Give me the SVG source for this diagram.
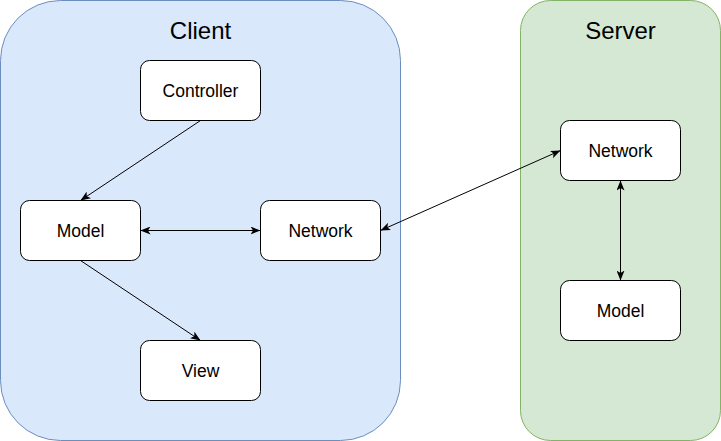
<svg xmlns="http://www.w3.org/2000/svg" width="721" height="441" viewBox="0 0 721 441">
<style>
.node rect{fill:#ffffff;stroke:#000000;stroke-width:1}
.node text{font-family:"Liberation Sans",Arial,sans-serif;font-size:17.5px;fill:#000;text-anchor:middle;dominant-baseline:central}
.title{font-family:"Liberation Sans",Arial,sans-serif;font-size:24px;fill:#000;text-anchor:middle;dominant-baseline:central}
.edge{fill:none;stroke:#000;stroke-width:1}
</style>
<defs>
<marker id="arrE" viewBox="0 0 10 8" refX="10" refY="4" markerWidth="10" markerHeight="8" orient="auto" markerUnits="userSpaceOnUse">
<path d="M0,0 L10,4 L0,8 L2.5,4 Z" fill="#000"/>
</marker>
<marker id="arrS" viewBox="0 0 10 8" refX="0" refY="4" markerWidth="10" markerHeight="8" orient="auto" markerUnits="userSpaceOnUse">
<path d="M10,0 L0,4 L10,8 L7.5,4 Z" fill="#000"/>
</marker>
</defs>
<g id="client">
<rect x="0.5" y="0.5" width="400" height="440" rx="60" ry="60" fill="#dae8fc" stroke="#6c8ebf"/>
<text class="title" x="200.5" y="30.5">Client</text>
</g>
<g id="server">
<rect x="520.5" y="0.5" width="200" height="440" rx="30" ry="30" fill="#d5e8d4" stroke="#82b366"/>
<text class="title" x="620.5" y="30.5">Server</text>
</g>
<g id="edges">
<line class="edge" x1="200.5" y1="120.5" x2="80.5" y2="200.5" marker-end="url(#arrE)"/>
<line class="edge" x1="140.5" y1="230.5" x2="260.5" y2="230.5" marker-start="url(#arrS)" marker-end="url(#arrE)"/>
<line class="edge" x1="80.5" y1="260.5" x2="200.5" y2="340.5" marker-end="url(#arrE)"/>
<line class="edge" x1="380.5" y1="230.5" x2="560.5" y2="150.5" marker-start="url(#arrS)" marker-end="url(#arrE)"/>
<line class="edge" x1="620.5" y1="180.5" x2="620.5" y2="280.5" marker-start="url(#arrS)" marker-end="url(#arrE)"/>
</g>
<g id="controller" class="node"><rect x="140.5" y="60.5" width="120" height="60" rx="9"/><text x="200.5" y="90.5">Controller</text></g>
<g id="model" class="node"><rect x="20.5" y="200.5" width="120" height="60" rx="9"/><text x="80.5" y="230.5">Model</text></g>
<g id="network" class="node"><rect x="260.5" y="200.5" width="120" height="60" rx="9"/><text x="320.5" y="230.5">Network</text></g>
<g id="view" class="node"><rect x="140.5" y="340.5" width="120" height="60" rx="9"/><text x="200.5" y="370.5">View</text></g>
<g id="server-network" class="node"><rect x="560.5" y="120.5" width="120" height="60" rx="9"/><text x="620.5" y="150.5">Network</text></g>
<g id="server-model" class="node"><rect x="560.5" y="280.5" width="120" height="60" rx="9"/><text x="620.5" y="310.5">Model</text></g>
</svg>
